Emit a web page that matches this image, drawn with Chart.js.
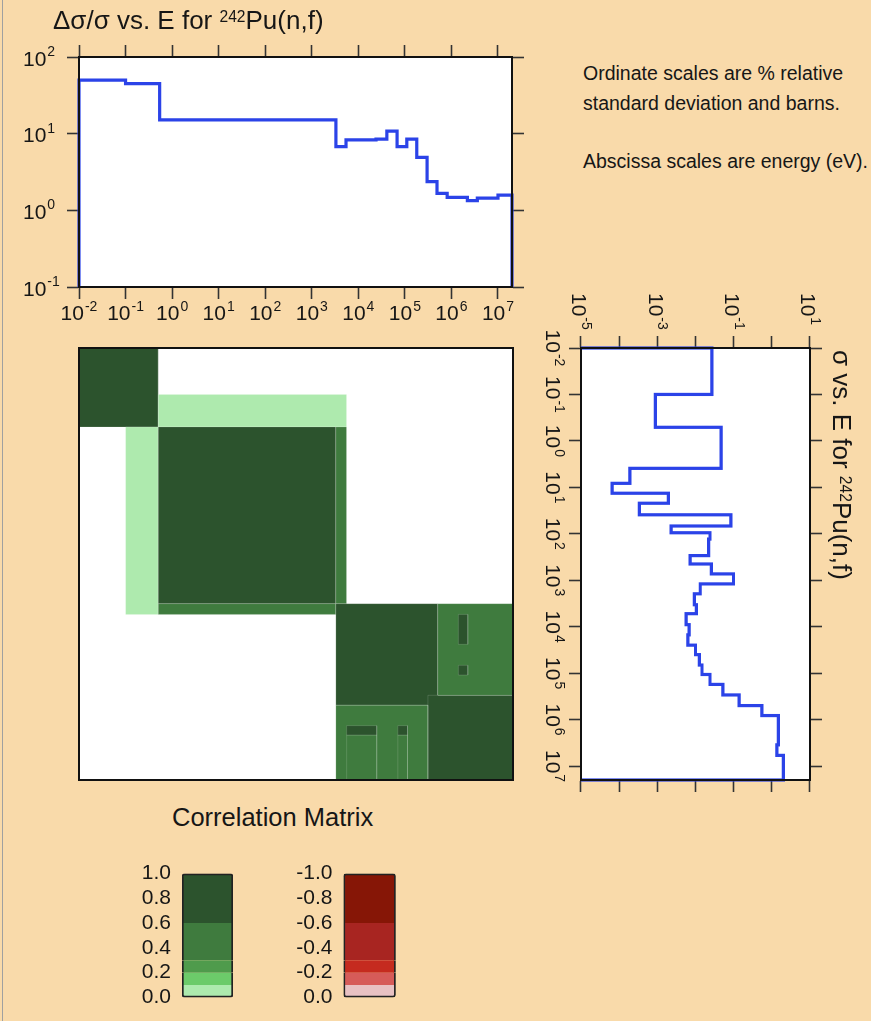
<!DOCTYPE html>
<html><head><meta charset="utf-8">
<script src="https://cdn.jsdelivr.net/npm/chart.js@4.4.1/dist/chart.umd.min.js"></script>
<style>
html,body{margin:0;padding:0;}
body{width:871px;height:1021px;background:#F9DAAA;position:relative;overflow:hidden;font-family:"Liberation Sans",Arial,Helvetica,sans-serif;color:#161616;}
canvas{display:block;}
.box{position:absolute;}
.t{position:absolute;white-space:nowrap;}
.sup{font-size:0.6em;position:relative;top:-0.47em;}
#edge{position:absolute;left:2px;top:0;width:1px;height:1021px;background:#a0a0a0;}
</style></head><body>
<div id="edge"></div>

<div class="box" style="left:0;top:0;width:530px;height:330px;"><canvas id="unc" width="530" height="330"></canvas></div>
<div class="t" style="left:53px;top:5px;font-size:26px;line-height:30px;">Δσ/σ vs. E for <span class="sup">242</span>Pu(n,f)</div>

<div class="t" style="left:583px;top:63px;font-size:19.5px;line-height:20px;">Ordinate scales are % relative</div>
<div class="t" style="left:583px;top:93px;font-size:19.5px;line-height:20px;">standard deviation and barns.</div>
<div class="t" style="left:583px;top:151px;font-size:19.5px;line-height:20px;">Abscissa scales are energy (eV).</div>

<div class="box" style="left:0;top:335px;width:530px;height:460px;"><canvas id="corr" width="530" height="460"></canvas></div>
<div class="t" style="left:172px;top:802px;font-size:25.5px;line-height:30px;">Correlation Matrix</div>

<div id="rot" class="box" style="left:871px;top:290px;width:510px;height:331px;transform-origin:0 0;transform:rotate(90deg);">
  <canvas id="xs" width="510" height="331"></canvas>
  <div class="t" style="left:60px;top:14px;font-size:26px;line-height:30px;">σ vs. E for <span class="sup">242</span>Pu(n,f)</div>
</div>

<div class="box" style="left:130px;top:850px;width:110px;height:171px;"><canvas id="legG" width="110" height="171"></canvas></div>
<div class="box" style="left:292px;top:850px;width:110px;height:171px;"><canvas id="legR" width="110" height="171"></canvas></div>

<script>
const FONT = '"Liberation Sans", Arial, Helvetica, sans-serif';

// ---- Relative standard deviation (%) of 242Pu(n,f): group edges (eV) and values
const uncEdges  = [0.01, 0.1, 0.54, 3300, 5440, 24000, 41000, 68000, 110000, 180000, 300000, 490000, 810000, 2200000, 3600000, 10000000, 20000000];
const uncValues = [50, 45, 15.1, 6.76, 8.3, 8.5, 10.8, 6.76, 8.5, 4.9, 2.37, 1.66, 1.48, 1.34, 1.44, 1.58];

// ---- Cross section (barns): group edges (eV) and values
const xsEdges  = [0.01, 0.1, 0.51, 3.9, 8.2, 13.4, 22, 39, 68, 95, 130, 295, 447, 731, 1200, 1960, 3370, 5250, 9050, 15000, 25000, 40000, 67000, 107000, 175000, 295000, 500000, 820000, 3500000, 5900000, 20000000];
const xsValues = [0.027, 0.00089, 0.047, 0.00019, 0.000065, 0.00195, 0.00034, 0.085, 0.0023, 0.024, 0.022, 0.0072, 0.026, 0.099, 0.0133, 0.0093, 0.0105, 0.0057, 0.0068, 0.0063, 0.010, 0.0127, 0.0148, 0.024, 0.052, 0.139, 0.547, 1.49, 1.35, 2.0];

// ---- Tick values and labels (labels are 10 raised to the listed exponent)
const energyTicks = [1e-2, 1e-1, 1, 10, 100, 1e3, 1e4, 1e5, 1e6, 1e7];
const energyTickExps = ['-2','-1','0','1','2','3','4','5','6','7'];
const uncTicks = [0.1, 1, 10, 100];
const uncTickExps = ['-1','0','1','2'];
const xsTicks = [1e-5, 1e-4, 1e-3, 1e-2, 1e-1, 1, 10];
const xsTickExps = ['-5','','-3','','-1','','1'];

// ---- Correlation matrix blocks (column energy range, row energy range, correlation)
const corrColLo = [0.01, 0.5, 0.1, 0.5, 3200, 0.5, 3200, 300000, 490000, 3200, 5440, 68000, 1350000, 1350000, 5440, 68000];
const corrColHi = [0.5, 5440, 0.5, 3200, 5440, 3200, 490000, 20000000, 20000000, 300000, 24000, 110000, 2150000, 2150000, 24000, 110000];
const corrRowLo = [0.01, 0.1, 0.5, 0.5, 0.5, 3200, 3200, 300000, 3200, 490000, 2150000, 2150000, 5440, 68000, 1350000, 1350000];
const corrRowHi = [0.5, 0.5, 5440, 3200, 3200, 5440, 490000, 20000000, 300000, 20000000, 20000000, 20000000, 24000, 110000, 2150000, 2150000];
const corrValue = [1.0, 0.05, 0.05, 1.0, 0.45, 0.45, 0.9, 0.9, 0.45, 0.45, 0.45, 0.45, 0.7, 0.7, 0.7, 0.7];

// ---- Colour legend
const legendBounds = [0, 0.1, 0.2, 0.3, 0.6, 1.0];
const greenColors = ['#AEEAAE', '#6CCB6A', '#4F9B4C', '#3F7B3E', '#2C532D'];
const redColors   = ['#E8C1C3', '#D65B59', '#C52B1F', '#A82521', '#861606'];
const legendTicks = [0, 0.2, 0.4, 0.6, 0.8, 1.0];
const greenTickLabels = ['0.0','0.2','0.4','0.6','0.8','1.0'];
const redTickLabels   = ['0.0','-0.2','-0.4','-0.6','-0.8','-1.0'];

function corrColor(r) {
  const a = Math.abs(r);
  let k = 0;
  while (k < 4 && a > legendBounds[k + 1]) k++;
  return (r >= 0 ? greenColors : redColors)[k];
}

function stepPoints(edges, values, floor) {
  const pts = [{x: edges[0], y: floor}];
  values.forEach((v, i) => pts.push({x: edges[i], y: v}));
  pts.push({x: edges[edges.length - 1], y: values[values.length - 1]});
  pts.push({x: edges[edges.length - 1], y: floor});
  return pts;
}

function logAxis(o) {
  return {
    type: 'logarithmic', position: o.position, min: o.min, max: o.max, reverse: !!o.reverse,
    afterBuildTicks: s => { s.ticks = o.ticks.map(v => ({value: v})); },
    afterFit: s => { if (s.isHorizontal()) s.height = o.size; else s.width = o.size; },
    ticks: {display: false, autoSkip: false, maxRotation: 0, minRotation: 0},
    grid: {display: o.tickLen > 0, drawOnChartArea: false, drawTicks: true, tickLength: o.tickLen || 0, tickColor: '#333', tickWidth: 1.6},
    border: {display: true, color: '#111', width: 2, z: 1}
  };
}

// Draws "10" with a raised exponent at every tick of the listed scales
function powerLabels(specs) {
  return {
    id: 'powerLabels',
    afterDraw(chart) {
      const ctx = chart.ctx;
      ctx.save();
      ctx.fillStyle = '#161616';
      ctx.textAlign = 'left';
      ctx.textBaseline = 'alphabetic';
      for (const sp of specs) {
        const s = chart.scales[sp.scale];
        sp.values.forEach((v, i) => {
          const exp = sp.exps[i];
          if (!exp) return;
          const p = s.getPixelForValue(v);
          ctx.font = '21px ' + FONT;
          const wb = ctx.measureText('10').width;
          ctx.font = '14px ' + FONT;
          const we = ctx.measureText(exp).width;
          let x, y;
          if (s.isHorizontal()) { x = p - (wb + 1 + we) / 2; y = s.top + sp.offset; }
          else { x = s.left + sp.offset; y = p + 8.5; }
          ctx.font = '21px ' + FONT;
          ctx.fillText('10', x, y);
          ctx.font = '14px ' + FONT;
          ctx.fillText(exp, x + wb + 1, y - 9.5);
        });
      }
      ctx.restore();
    }
  };
}

const plotBg = {
  id: 'plotBg',
  beforeDraw(chart) {
    const {ctx, chartArea: a} = chart;
    ctx.save(); ctx.fillStyle = '#ffffff'; ctx.fillRect(a.left, a.top, a.width, a.height); ctx.restore();
  }
};

const baseOpts = {
  responsive: false, animation: false, devicePixelRatio: 1,
  plugins: {legend: {display: false}, tooltip: {enabled: false}, title: {display: false}}
};

// ---- Top: relative uncertainty vs energy
new Chart(document.getElementById('unc'), {
  type: 'scatter',
  data: {datasets: [{data: stepPoints(uncEdges, uncValues, 0.1), showLine: true, stepped: 'before',
    borderColor: '#2B43E8', borderWidth: 3.2, pointRadius: 0, fill: false, clip: false}]},
  options: Object.assign({}, baseOpts, {
    layout: {padding: {left: 23, right: 6, top: 45, bottom: 3}},
    scales: {
      x:  logAxis({position: 'bottom', min: 0.01, max: 2e7, ticks: energyTicks, tickLen: 12, size: 40}),
      x2: logAxis({position: 'top', min: 0.01, max: 2e7, ticks: energyTicks, tickLen: 12, size: 12}),
      y:  logAxis({position: 'left', min: 0.1, max: 100, ticks: uncTicks, tickLen: 12, size: 56}),
      y2: logAxis({position: 'right', min: 0.1, max: 100, ticks: uncTicks, tickLen: 12, size: 12})
    }
  }),
  plugins: [plotBg, powerLabels([
    {scale: 'x', values: energyTicks, exps: energyTickExps, offset: 33},
    {scale: 'y', values: uncTicks, exps: uncTickExps, offset: 0}
  ])]
});

// ---- Right: cross section vs energy (drawn unrotated, the container is turned 90 degrees)
new Chart(document.getElementById('xs'), {
  type: 'scatter',
  data: {datasets: [{data: stepPoints(xsEdges, xsValues, 1e-5), showLine: true, stepped: 'before',
    borderColor: '#2B43E8', borderWidth: 3.2, pointRadius: 0, fill: false, clip: false}]},
  options: Object.assign({}, baseOpts, {
    layout: {padding: {left: 3, right: 8, top: 49, bottom: 3}},
    scales: {
      x:  logAxis({position: 'bottom', min: 0.01, max: 2e7, ticks: energyTicks, tickLen: 12, size: 38}),
      x2: logAxis({position: 'top', min: 0.01, max: 2e7, ticks: energyTicks, tickLen: 12, size: 12}),
      y:  logAxis({position: 'left', min: 1e-5, max: 10, ticks: xsTicks, tickLen: 12, size: 55}),
      y2: logAxis({position: 'right', min: 1e-5, max: 10, ticks: xsTicks, tickLen: 12, size: 12})
    }
  }),
  plugins: [plotBg, powerLabels([
    {scale: 'x', values: energyTicks, exps: energyTickExps, offset: 35},
    {scale: 'y', values: xsTicks, exps: xsTickExps, offset: 0}
  ])]
});

// ---- Correlation matrix
const corrDatasets = corrValue.map((r, i) => ({
  data: [
    {x: corrColLo[i], y: corrRowLo[i]}, {x: corrColHi[i], y: corrRowLo[i]},
    {x: corrColHi[i], y: corrRowHi[i]}, {x: corrColLo[i], y: corrRowHi[i]},
    {x: corrColLo[i], y: corrRowLo[i]}
  ],
  showLine: true, fill: 'shape', tension: 0, pointRadius: 0,
  backgroundColor: corrColor(r), borderColor: 'rgba(255,255,255,0.14)', borderWidth: 1,
  order: corrValue.length - i
}));
new Chart(document.getElementById('corr'), {
  type: 'scatter',
  data: {datasets: corrDatasets},
  options: Object.assign({}, baseOpts, {
    layout: {padding: {left: 79, right: 17, top: 13, bottom: 15}},
    scales: {
      x:  logAxis({position: 'bottom', min: 0.01, max: 2e7, ticks: energyTicks, tickLen: 0, size: 0}),
      x2: logAxis({position: 'top', min: 0.01, max: 2e7, ticks: energyTicks, tickLen: 0, size: 0}),
      y:  logAxis({position: 'left', min: 0.01, max: 2e7, reverse: true, ticks: energyTicks, tickLen: 0, size: 0}),
      y2: logAxis({position: 'right', min: 0.01, max: 2e7, reverse: true, ticks: energyTicks, tickLen: 0, size: 0})
    }
  }),
  plugins: [plotBg]
});

// ---- Colour legends
function legendChart(id, colors, labels, yWidth, padRight) {
  const n = colors.length;
  new Chart(document.getElementById(id), {
    type: 'bar',
    data: {labels: [''], datasets: colors.map((c, k) => ({
      data: [legendBounds[k + 1] - legendBounds[k]],
      backgroundColor: c, borderColor: '#222', borderSkipped: false,
      borderWidth: {left: 2, right: 2, top: k === n - 1 ? 2 : 0, bottom: k === 0 ? 2 : 0},
      borderRadius: {topLeft: k === n - 1 ? 3 : 0, topRight: k === n - 1 ? 3 : 0, bottomLeft: k === 0 ? 3 : 0, bottomRight: k === 0 ? 3 : 0},
      barPercentage: 1, categoryPercentage: 1, stack: 's'
    }))},
    options: Object.assign({}, baseOpts, {
      layout: {padding: {left: 0, right: padRight, top: 17.5, bottom: 13.5}},
      scales: {
        x: {display: false, stacked: true},
        y: {
          stacked: true, min: 0, max: 1,
          afterBuildTicks: s => { s.ticks = legendTicks.map(v => ({value: v})); },
          afterFit: s => { s.width = yWidth; },
          ticks: {autoSkip: false, padding: 11, color: '#161616', font: {family: FONT, size: 21}, callback: (v, i) => labels[i]},
          grid: {display: false, drawTicks: false, tickLength: 0}, border: {display: false}
        }
      }
    })
  });
}
legendChart('legG', greenColors, greenTickLabels, 52, 7);
legendChart('legR', redColors, redTickLabels, 51.5, 6.3);
</script>
</body></html>
